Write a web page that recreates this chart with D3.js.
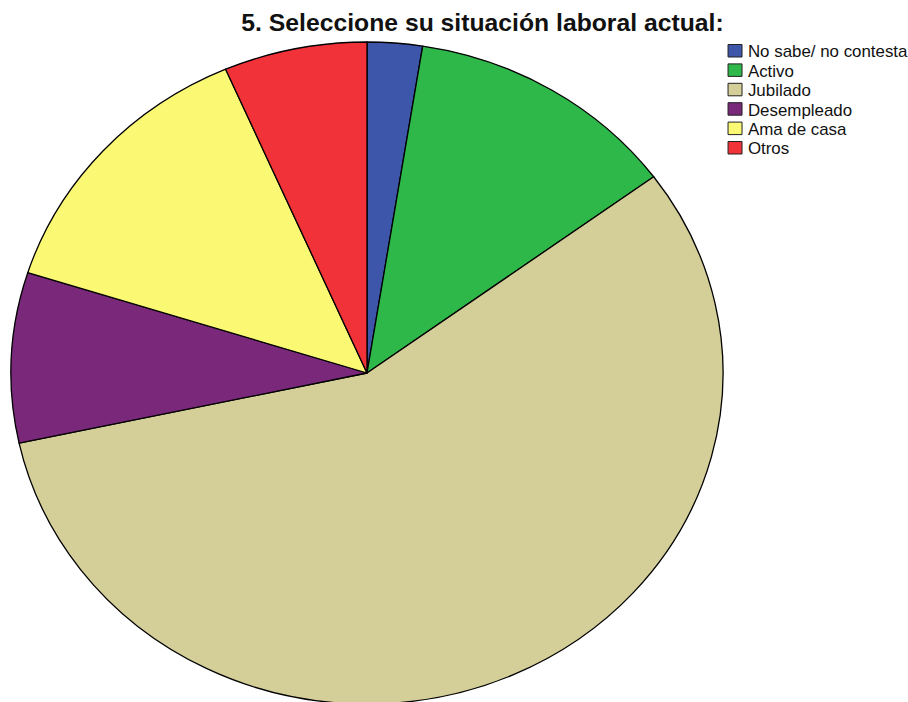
<!DOCTYPE html>
<html><head><meta charset="utf-8">
<script src="https://cdn.jsdelivr.net/npm/d3@7"></script>
<style>body{margin:0;background:#fff}svg{display:block}</style>
</head><body>
<script>
const categories = ["No sabe/ no contesta","Activo","Jubilado","Desempleado","Ama de casa","Otros"];
const values = [2.5, 12.4, 56.7, 8.3, 13.6, 6.5];
const colors = ["#3e56aa","#2fb84a","#d4ce98","#7a287a","#fbf874","#f23239"];
const title = "5. Seleccione su situación laboral actual:";

const W = 908, H = 702;
const svg = d3.select("body").append("svg").attr("width", W).attr("height", H);
const cx = 367, cy = 373, rx = 356, ry = 331;
const sx = rx / ry;

const pie = d3.pie().sort(null).value(d => d)(values);
const arc = d3.arc().innerRadius(0).outerRadius(ry);
const g = svg.append("g").attr("transform", `translate(${cx},${cy}) scale(${sx},1)`);
g.selectAll("path").data(pie).join("path")
  .attr("d", arc)
  .attr("fill", (d,i) => colors[i])
  .attr("stroke", "#000")
  .attr("stroke-width", 1.3)
  .attr("vector-effect", "non-scaling-stroke")
  .attr("stroke-linejoin", "round");

svg.append("g").attr("transform", `translate(482.5,31) scale(${sx},1)`)
  .append("text").attr("text-anchor", "middle")
  .attr("font-family", "Liberation Sans, Arial, sans-serif").attr("font-weight", "bold")
  .attr("font-size", 23).attr("fill", "#111").text(title);

const lg = svg.append("g").attr("transform", `translate(727.5,44) scale(${sx},1)`);
const row = lg.selectAll("g").data(categories).join("g")
  .attr("transform", (d,i) => `translate(0,${i*19.4})`);
row.append("rect").attr("x", 0.5).attr("y", 0.5).attr("width", 13).attr("height", 12.5)
  .attr("fill", (d,i) => colors[i]).attr("stroke", "#222").attr("stroke-width", 1)
  .attr("vector-effect", "non-scaling-stroke");
row.append("text").attr("x", 19).attr("y", 13.3)
  .attr("font-family", "Liberation Sans, Arial, sans-serif").attr("font-size", 15.7)
  .attr("fill", "#111").text(d => d);
</script>
</body></html>
